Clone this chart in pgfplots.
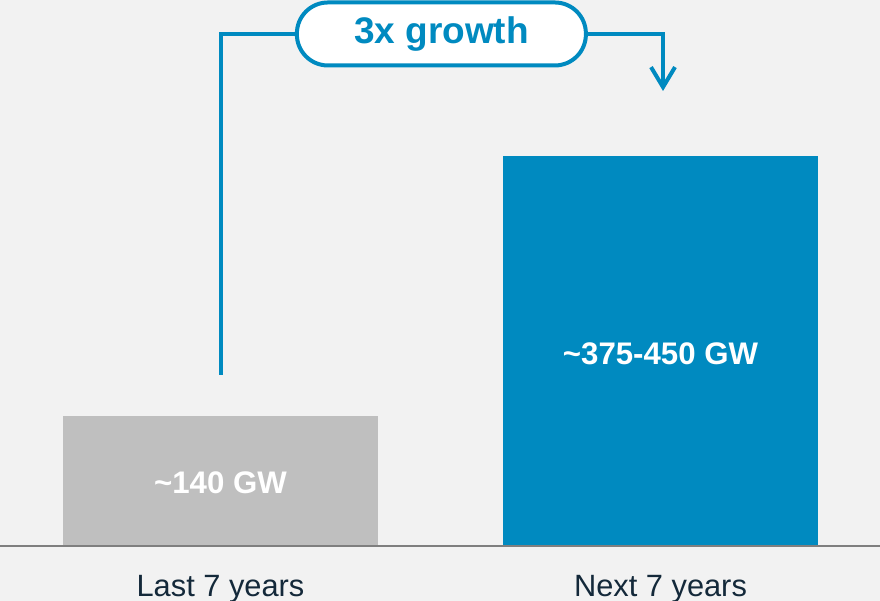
\documentclass[border=0pt]{standalone}
\usepackage{fontspec}
\setmainfont{Liberation Sans}
\usepackage{pgfplots}
\pgfplotsset{compat=1.18}
\usetikzlibrary{arrows.meta}
\definecolor{bg}{HTML}{F2F2F2}
\definecolor{barblue}{HTML}{008AC0}
\definecolor{bargray}{HTML}{BFBFBF}
\definecolor{navy}{HTML}{14293A}
\definecolor{axisgray}{HTML}{7F7F7F}

\begin{document}
\begin{tikzpicture}
\begin{axis}[
  width=440pt, height=300.5pt, scale only axis,
  xmin=-0.50114, xmax=1.49886,
  ymin=-59.23, ymax=588.0,
  axis line style={draw=none},
  axis background/.style={fill=bg},
  ytick=\empty,
  xtick={0,1},
  xticklabels={Last 7 years, Next 7 years},
  major tick length=0pt,
  xticklabel style={anchor=base, yshift=2.2pt, font=\fontsize{15.4}{18}\selectfont, text=navy},
  clip=false,
]
% bars (GW)
\addplot[ybar, bar width=0.716, bar shift=0pt, fill=bargray, draw=none] coordinates {(0,140)};
\addplot[ybar, bar width=0.716, bar shift=0pt, fill=barblue, draw=none] coordinates {(1,420)};
% labels inside the bars
\addplot[only marks, mark=none, nodes near coords, point meta=explicit symbolic,
  nodes near coords style={anchor=center, text=white, font=\bfseries\fontsize{15.6}{18}\selectfont}]
  coordinates {(0,67.8)[\textasciitilde 140 GW] (1,206.8)[\textasciitilde 375-450 GW]};
% baseline
\draw[axisgray, line width=1pt] (axis cs:-0.50114,0) -- (axis cs:1.49886,0);
% growth arrow
\draw[barblue, line width=2pt, -{Straight Barb[length=10pt,width=12pt]}]
  (axis cs:0,184.2) |- (axis cs:1.0057,551.4) -- (axis cs:1.0057,490);
\node[draw=barblue, line width=2pt, fill=white, rounded corners=15.5pt,
  minimum width=144.5pt, minimum height=31.5pt, inner sep=0pt, text=barblue,
  font=\bfseries\fontsize{18.5}{22}\selectfont] at (axis cs:0.502,551.4) {3x growth};
\end{axis}
\pgfresetboundingbox
\path (current axis.south west) rectangle (current axis.north east);
\end{tikzpicture}
\end{document}
